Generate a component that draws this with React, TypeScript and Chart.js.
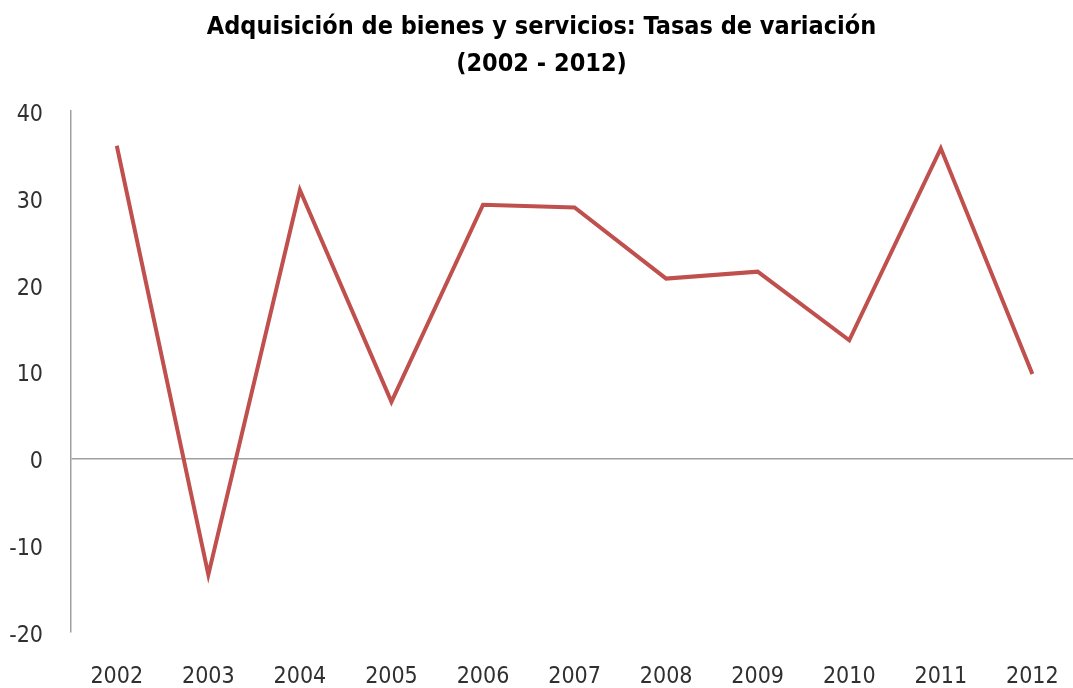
import React, { useEffect, useRef } from "react";
import { Chart, registerables } from "chart.js";

Chart.register(...registerables);

const titleLines = ["Adquisición de bienes y servicios: Tasas de variación", "(2002 - 2012)"];
const years = ["2002", "2003", "2004", "2005", "2006", "2007", "2008", "2009", "2010", "2011", "2012"];
const rates = [36.0, -13.4, 30.9, 6.5, 29.2, 28.9, 20.7, 21.5, 13.6, 35.7, 9.7];
const yMin = -20;
const yMax = 40;
const yStep = 10;

const FONT = "'Liberation Sans Narrow', 'Arial Narrow', 'DejaVu Sans Condensed', sans-serif";

export default function App() {
  const ref = useRef<HTMLCanvasElement | null>(null);

  useEffect(() => {
    if (!ref.current) return;
    const chart = new Chart(ref.current, {
      type: "line",
      data: {
        labels: years,
        datasets: [
          {
            data: rates,
            borderColor: "#C0504D",
            borderWidth: 4,
            pointRadius: 0,
            tension: 0,
            fill: false,
          },
        ],
      },
      options: {
        responsive: false,
        animation: false,
        layout: { padding: { top: 0, left: 0, right: 7, bottom: 0 } },
        plugins: {
          legend: { display: false },
          tooltip: { enabled: false },
          title: {
            display: true,
            text: titleLines,
            color: "#000000",
            font: { family: FONT, size: 25, weight: "bold", lineHeight: 1.48 },
            padding: { top: 9, bottom: 28 },
          },
        },
        scales: {
          x: {
            offset: true,
            grid: { display: false, drawTicks: false },
            border: { display: false },
            afterFit: (scale: any) => {
              scale.height = 56;
            },
            ticks: {
              color: "#303030",
              font: { family: FONT, size: 23 },
              padding: 31,
              maxRotation: 0,
              autoSkip: false,
            },
          },
          y: {
            min: yMin,
            max: yMax,
            afterFit: (scale: any) => {
              scale.width = 71;
            },
            grid: {
              drawTicks: false,
              color: (ctx: any) => (ctx.tick && ctx.tick.value === 0 ? "#A0A0A0" : "rgba(0,0,0,0)"),
              lineWidth: 1.5,
            },
            border: { display: true, color: "#A0A0A0", width: 1.5 },
            ticks: {
              stepSize: yStep,
              color: "#303030",
              font: { family: FONT, size: 23 },
              padding: 28,
              labelOffset: 4,
            },
          },
        },
      },
    });
    return () => chart.destroy();
  }, []);

  return (
    <div style={{ position: "fixed", left: 0, top: 0, width: 1073, height: 688, overflow: "hidden", background: "#fff" }}>
      <canvas ref={ref} width={1090} height={688} style={{ display: "block" }} />
    </div>
  );
}
